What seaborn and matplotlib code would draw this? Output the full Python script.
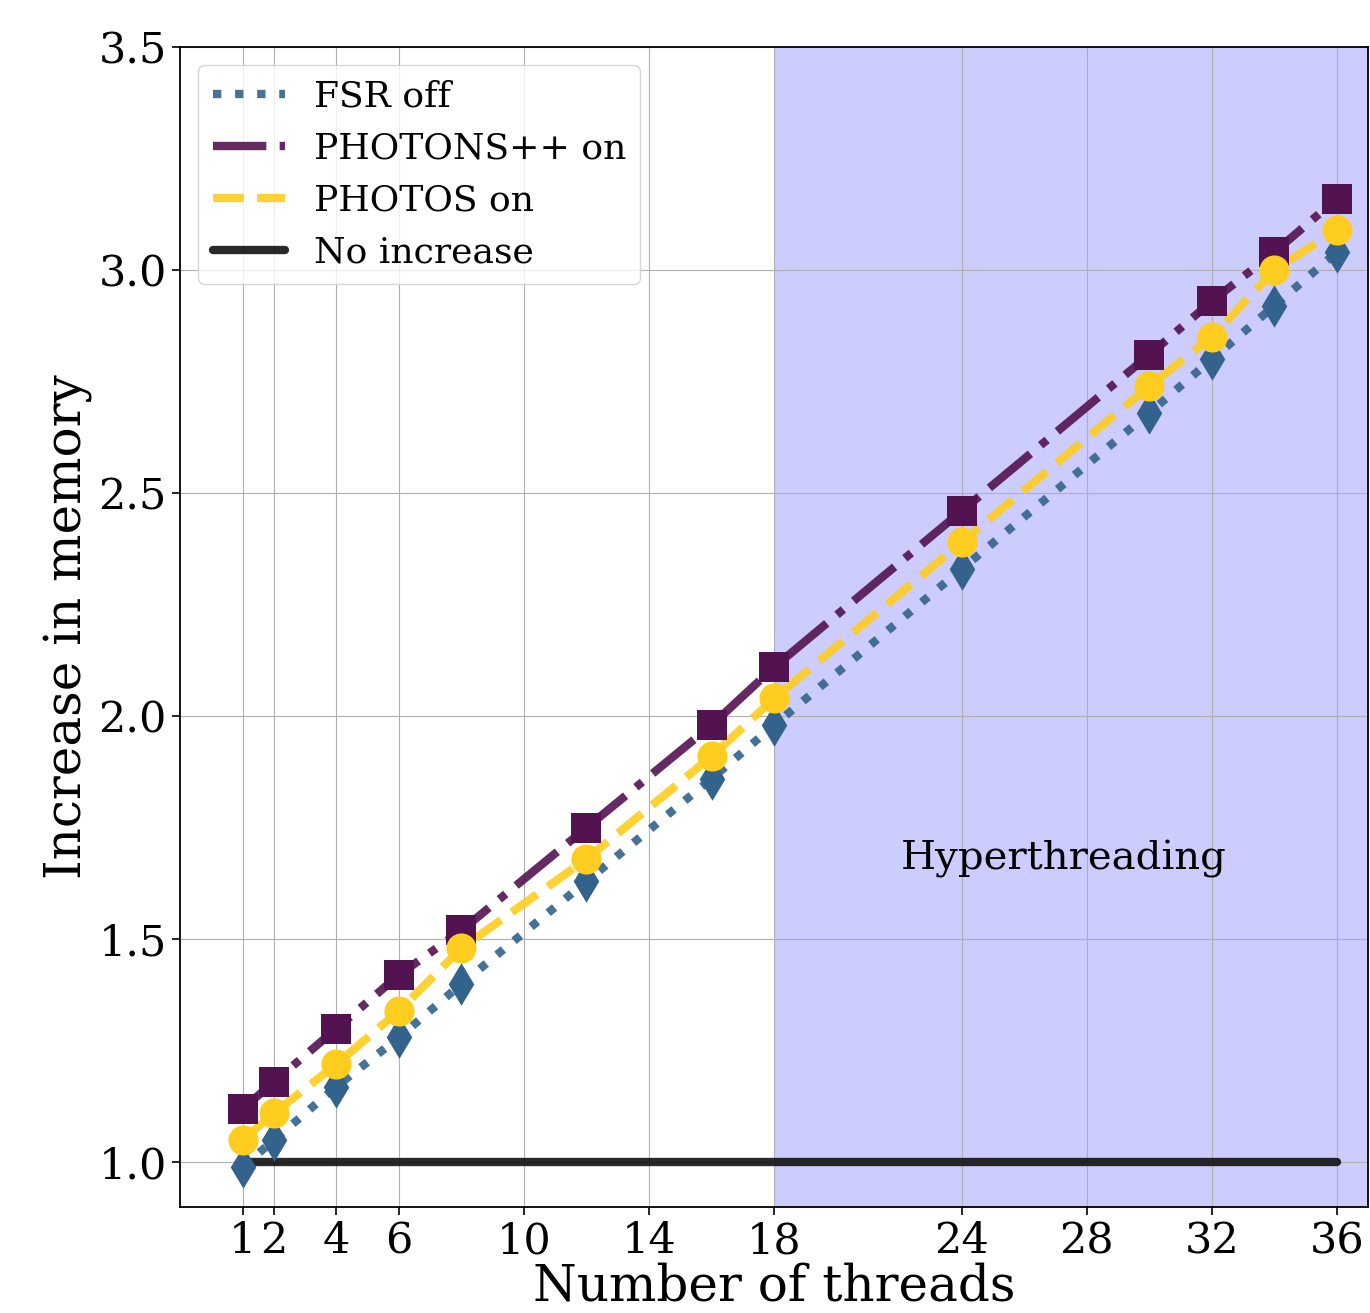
import matplotlib
matplotlib.use("Agg")
import matplotlib.pyplot as plt
import seaborn as sns
import numpy as np

threads = [1, 2, 4, 6, 8, 12, 16, 18, 24, 30, 32, 34, 36]
fsr_off = [0.99, 1.05, 1.17, 1.28, 1.40, 1.63, 1.86, 1.98, 2.33, 2.68, 2.80, 2.92, 3.04]
photons_on = [1.12, 1.18, 1.30, 1.42, 1.52, 1.75, 1.98, 2.11, 2.46, 2.81, 2.93, 3.04, 3.16]
photos_on = [1.05, 1.11, 1.22, 1.34, 1.48, 1.68, 1.91, 2.04, 2.39, 2.74, 2.85, 3.00, 3.09]
no_increase = [1.0] * len(threads)
xtick_vals = [1, 2, 4, 6, 10, 14, 18, 24, 28, 32, 36]

c_fsr = "#33638d"
c_photons = "#531350"
c_photos = "#fecd1f"

sns.set_style("ticks", {"axes.grid": True, "grid.color": "#b0b0b0",
                        "text.color": "black", "axes.labelcolor": "black",
                        "xtick.color": "black", "ytick.color": "black"})
plt.rcParams["font.family"] = ["DejaVu Serif"]

fig = plt.figure(figsize=(13.7, 13.13), dpi=100)
ax = fig.add_axes([0.1314, 0.0807, 0.8672, 0.8835])

ax.axvspan(18, 37, color="#ccccff", zorder=0, lw=0)

sns.lineplot(x=threads, y=fsr_off, ax=ax, color=c_fsr, linestyle=":", lw=6, alpha=0.9, label="FSR off")
sns.lineplot(x=threads, y=photons_on, ax=ax, color=c_photons, linestyle="-.", lw=6, alpha=0.9, label="PHOTONS++ on")
sns.lineplot(x=threads, y=photos_on, ax=ax, color=c_photos, linestyle="--", lw=6, alpha=0.9, label="PHOTOS on")
sns.lineplot(x=threads, y=no_increase, ax=ax, color="#111111", linestyle="-", lw=6, alpha=0.9, label="No increase")

sns.scatterplot(x=threads, y=photons_on, ax=ax, color=c_photons, marker="s", s=470, linewidth=0, zorder=5, legend=False)
sns.scatterplot(x=threads, y=fsr_off, ax=ax, color=c_fsr, marker="d", s=470, linewidth=0, zorder=5, legend=False)
sns.scatterplot(x=threads, y=photos_on, ax=ax, color=c_photos, marker="o", s=470, linewidth=0, zorder=6, legend=False)

ax.text(27.25, 1.68, "Hyperthreading", fontsize=29, ha="center", va="center", color="black")

ax.set_xlim(-1, 37)
ax.set_ylim(0.9, 3.5)
ax.set_xticks(xtick_vals)
ax.set_yticks([1.0, 1.5, 2.0, 2.5, 3.0, 3.5])
ax.tick_params(labelsize=31, length=6, width=1.2, color="black", labelcolor="black")
ax.set_xlabel("Number of threads", fontsize=36, labelpad=0, color="black")
ax.set_ylabel("Increase in memory", fontsize=36, color="black")
for sp in ax.spines.values():
    sp.set_color("black")
    sp.set_linewidth(1.3)

leg = ax.legend(loc="upper left", fontsize=26, framealpha=0.8)
for t in leg.get_texts():
    t.set_color("black")

fig.savefig("out.png", dpi=100)
